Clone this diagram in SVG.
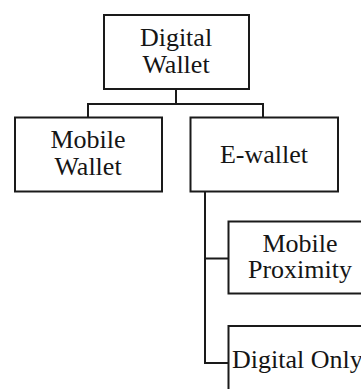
<svg xmlns="http://www.w3.org/2000/svg" width="361" height="389" viewBox="0 0 361 389">
<style>
.box{fill:#fff;stroke:#1a1a1a;stroke-width:2}
.lbl{font-family:"Liberation Serif","Times New Roman",serif;font-size:26px;fill:#151515;text-anchor:middle}
.conn{fill:none;stroke:#1a1a1a;stroke-width:2}
</style>
<rect width="361" height="389" fill="#fff"/>
<g id="connectors">
<path class="conn" d="M176 89V104M88 117V104H263V117"/>
<path class="conn" d="M205 192V363H229M205 258.5H229"/>
</g>
<g id="digital-wallet">
<rect class="box" x="104" y="15" width="145" height="74"/>
<text class="lbl" x="176" y="46">Digital</text>
<text class="lbl" x="176" y="73">Wallet</text>
</g>
<g id="mobile-wallet">
<rect class="box" x="15" y="117.5" width="147" height="74"/>
<text class="lbl" x="88" y="148">Mobile</text>
<text class="lbl" x="88" y="175">Wallet</text>
</g>
<g id="e-wallet">
<rect class="box" x="190.5" y="117.5" width="147.5" height="74"/>
<text class="lbl" x="264" y="162.5">E-wallet</text>
</g>
<g id="mobile-proximity">
<rect class="box" x="228.5" y="221.5" width="147" height="72"/>
<text class="lbl" x="300" y="251.5">Mobile</text>
<text class="lbl" x="300" y="278">Proximity</text>
</g>
<g id="digital-only">
<rect class="box" x="228.5" y="326" width="147" height="80"/>
<text class="lbl" x="232" y="368" style="text-anchor:start">Digital Only</text>
</g>
</svg>
